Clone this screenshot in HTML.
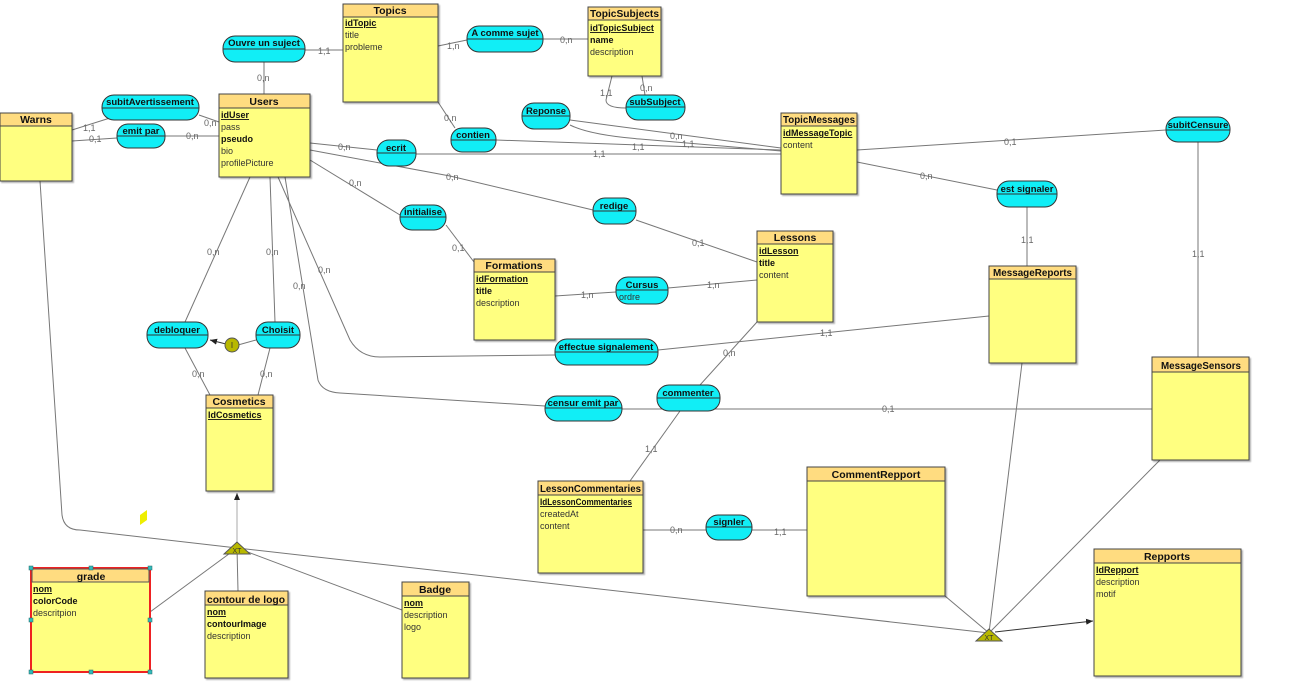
<!DOCTYPE html>
<html><head><meta charset="utf-8"><style>
html,body{margin:0;padding:0;background:#fff;width:1311px;height:692px;overflow:hidden}
svg{display:block;font-family:"Liberation Sans",sans-serif}
.ln{stroke:#777;stroke-width:1;fill:none}
.cd{font-size:9px;fill:#666}
.eb{fill:#ffff80;stroke:#444;stroke-width:1}
.eh{fill:#ffdc80;stroke:#444;stroke-width:1}
.et{font-size:10.5px;font-weight:bold;fill:#111}
.at{font-size:9px;fill:#333}
.ab{font-size:9px;fill:#111;font-weight:bold}
.as{fill:#11eef6;stroke:#333;stroke-width:1}
.an{font-size:9.5px;font-weight:bold;fill:#111}
.hd{fill:#3bb;stroke:#266;stroke-width:0.5}
</style></head><body>
<svg width="1311" height="692" viewBox="0 0 1311 692">
<defs><marker id="ar" markerWidth="8" markerHeight="8" refX="7" refY="4" orient="auto"><path d="M0,1 L7,4 L0,7z" fill="#222"/></marker>
<filter id="sh" x="-5%" y="-5%" width="115%" height="115%"><feDropShadow dx="1.5" dy="1.5" stdDeviation="0.8" flood-color="#000" flood-opacity="0.3"/></filter></defs>
<g class="ln">
<line x1="264" y1="62" x2="264" y2="94"/>
<line x1="305" y1="50" x2="343" y2="50"/>
<line x1="438" y1="46" x2="467" y2="40"/>
<line x1="543" y1="39" x2="588" y2="39"/>
<path d="M612,76 L606,100 Q606,108 626,108"/>
<line x1="642" y1="76" x2="645" y2="95"/>
<line x1="438" y1="102" x2="455" y2="128"/>
<line x1="496" y1="140" x2="781" y2="150"/>
<line x1="570" y1="120" x2="781" y2="148"/>
<path d="M570,125 Q590,135 640,139 L781,151"/>
<line x1="310" y1="143" x2="377" y2="150"/>
<line x1="416" y1="154" x2="781" y2="154"/>
<line x1="310" y1="150" x2="450" y2="176"/>
<line x1="450" y1="176" x2="593" y2="210"/>
<line x1="310" y1="160" x2="400" y2="215"/>
<line x1="446" y1="225" x2="474" y2="262"/>
<line x1="636" y1="220" x2="757" y2="262"/>
<line x1="555" y1="296" x2="616" y2="292"/>
<line x1="668" y1="288" x2="757" y2="280"/>
<line x1="857" y1="150" x2="1166" y2="130"/>
<line x1="1198" y1="142" x2="1198" y2="357"/>
<line x1="857" y1="162" x2="997" y2="190"/>
<line x1="1027" y1="207" x2="1027" y2="266"/>
<line x1="250" y1="177" x2="185" y2="322"/>
<line x1="270" y1="177" x2="275" y2="322"/>
<path d="M278,177 L350,340 Q360,357 380,357 L555,355"/>
<path d="M285,177 L318,380 Q322,392 340,393 L545,406"/>
<line x1="658" y1="350" x2="989" y2="316"/>
<line x1="622" y1="409" x2="1152" y2="409"/>
<line x1="757" y1="322" x2="700" y2="385"/>
<line x1="680" y1="411" x2="630" y2="481"/>
<line x1="643" y1="530" x2="706" y2="530"/>
<line x1="752" y1="530" x2="807" y2="530"/>
<line x1="256" y1="340" x2="238" y2="345"/>
<line x1="185" y1="348" x2="210" y2="395"/>
<line x1="270" y1="348" x2="258" y2="395"/>
<line x1="72" y1="130" x2="110" y2="118"/>
<line x1="72" y1="141" x2="117" y2="138"/>
<line x1="199" y1="115" x2="219" y2="122"/>
<line x1="165" y1="136" x2="219" y2="136"/>
<path d="M40,181 L62,515 Q64,530 80,530 L237,548 L989,633"/>
<line x1="150" y1="612" x2="237" y2="548"/>
<line x1="238" y1="591" x2="237" y2="548"/>
<line x1="402" y1="610" x2="237" y2="548"/>
<line x1="945" y1="596" x2="989" y2="633"/>
<line x1="1022" y1="363" x2="989" y2="633"/>
<line x1="1160" y1="460" x2="989" y2="633"/>
</g>
<line x1="237" y1="545" x2="237" y2="493" stroke="#aaa" marker-end="url(#ar)"/>
<line x1="995" y1="632" x2="1093" y2="621" stroke="#333" marker-end="url(#ar)"/>
<line x1="226" y1="344" x2="210" y2="340" stroke="#333" marker-end="url(#ar)"/>
<g class="cd">
<text x="257" y="81">0,n</text><text x="318" y="54">1,1</text>
<text x="447" y="49">1,n</text><text x="560" y="43">0,n</text>
<text x="600" y="96">1,1</text><text x="640" y="91">0,n</text>
<text x="444" y="121">0,n</text><text x="632" y="150">1,1</text>
<text x="670" y="139">0,n</text><text x="682" y="147">1,1</text>
<text x="338" y="150">0,n</text><text x="593" y="157">1,1</text>
<text x="446" y="180">0,n</text><text x="349" y="186">0,n</text>
<text x="452" y="251">0,1</text><text x="692" y="246">0,1</text>
<text x="581" y="298">1,n</text><text x="707" y="288">1,n</text>
<text x="1004" y="145">0,1</text><text x="1192" y="257">1,1</text>
<text x="920" y="179">0,n</text><text x="1021" y="243">1,1</text>
<text x="207" y="255">0,n</text><text x="266" y="255">0,n</text>
<text x="318" y="273">0,n</text><text x="293" y="289">0,n</text>
<text x="820" y="336">1,1</text><text x="882" y="412">0,1</text>
<text x="723" y="356">0,n</text><text x="645" y="452">1,1</text>
<text x="670" y="533">0,n</text><text x="774" y="535">1,1</text>
<text x="192" y="377">0,n</text><text x="260" y="377">0,n</text>
<text x="83" y="131">1,1</text><text x="89" y="142">0,1</text>
<text x="204" y="126">0,n</text><text x="186" y="139">0,n</text>
</g>
<g>
<rect class="eb" x="343" y="4" width="95" height="98" filter="url(#sh)"/><rect class="eh" x="343" y="4" width="95" height="13"/>
<text class="et" x="390" y="14" text-anchor="middle">Topics</text>
<text class="ab" x="345" y="26" text-decoration="underline">idTopic</text><text class="at" x="345" y="38">title</text><text class="at" x="345" y="50">probleme</text>

<rect class="eb" x="588" y="7" width="73" height="69" filter="url(#sh)"/><rect class="eh" x="588" y="7" width="73" height="13"/>
<text class="et" x="590" y="17" textLength="69" lengthAdjust="spacingAndGlyphs">TopicSubjects</text>
<text class="ab" x="590" y="31" font-size="8" text-decoration="underline">idTopicSubject</text><text class="ab" x="590" y="43">name</text><text class="at" x="590" y="55">description</text>

<rect class="eb" x="219" y="94" width="91" height="83" filter="url(#sh)"/><rect class="eh" x="219" y="94" width="91" height="14"/>
<text class="et" x="264" y="105" text-anchor="middle">Users</text>
<text class="ab" x="221" y="118" text-decoration="underline">idUser</text><text class="at" x="221" y="130">pass</text><text class="ab" x="221" y="142">pseudo</text><text class="at" x="221" y="154">bio</text><text class="at" x="221" y="166">profilePicture</text>

<rect class="eb" x="0" y="113" width="72" height="68" filter="url(#sh)"/><rect class="eh" x="0" y="113" width="72" height="13"/>
<text class="et" x="36" y="123" text-anchor="middle">Warns</text>

<rect class="eb" x="781" y="113" width="76" height="81" filter="url(#sh)"/><rect class="eh" x="781" y="113" width="76" height="13"/>
<text class="et" x="783" y="123" textLength="72" lengthAdjust="spacingAndGlyphs">TopicMessages</text>
<text class="ab" x="783" y="136" font-size="8.5" text-decoration="underline">idMessageTopic</text><text class="at" x="783" y="148">content</text>

<rect class="eb" x="757" y="231" width="76" height="91" filter="url(#sh)"/><rect class="eh" x="757" y="231" width="76" height="13"/>
<text class="et" x="795" y="241" text-anchor="middle">Lessons</text>
<text class="ab" x="759" y="254" text-decoration="underline">idLesson</text><text class="ab" x="759" y="266">title</text><text class="at" x="759" y="278">content</text>

<rect class="eb" x="474" y="259" width="81" height="81" filter="url(#sh)"/><rect class="eh" x="474" y="259" width="81" height="13"/>
<text class="et" x="514" y="269" text-anchor="middle">Formations</text>
<text class="ab" x="476" y="282" text-decoration="underline">idFormation</text><text class="ab" x="476" y="294">title</text><text class="at" x="476" y="306">description</text>

<rect class="eb" x="989" y="266" width="87" height="97" filter="url(#sh)"/><rect class="eh" x="989" y="266" width="87" height="13"/>
<text class="et" x="993" y="276" textLength="79" lengthAdjust="spacingAndGlyphs">MessageReports</text>

<rect class="eb" x="1152" y="357" width="97" height="103" filter="url(#sh)"/><rect class="eh" x="1152" y="357" width="97" height="15"/>
<text class="et" x="1161" y="369" textLength="80" lengthAdjust="spacingAndGlyphs">MessageSensors</text>

<rect class="eb" x="206" y="395" width="67" height="96" filter="url(#sh)"/><rect class="eh" x="206" y="395" width="67" height="13"/>
<text class="et" x="239" y="405" text-anchor="middle">Cosmetics</text>
<text class="ab" x="208" y="418" font-size="8" text-decoration="underline">IdCosmetics</text>

<rect class="eb" x="538" y="481" width="105" height="92" filter="url(#sh)"/><rect class="eh" x="538" y="481" width="105" height="14"/>
<text class="et" x="540" y="492" textLength="101" lengthAdjust="spacingAndGlyphs">LessonCommentaries</text>
<text class="ab" x="540" y="505" font-size="8" text-decoration="underline" textLength="92" lengthAdjust="spacingAndGlyphs">IdLessonCommentaries</text><text class="at" x="540" y="517">createdAt</text><text class="at" x="540" y="529">content</text>

<rect class="eb" x="807" y="467" width="138" height="129" filter="url(#sh)"/><rect class="eh" x="807" y="467" width="138" height="14"/>
<text class="et" x="876" y="478" text-anchor="middle">CommentRepport</text>

<rect class="eb" x="1094" y="549" width="147" height="127" filter="url(#sh)"/><rect class="eh" x="1094" y="549" width="147" height="14"/>
<text class="et" x="1167" y="560" text-anchor="middle">Repports</text>
<text class="ab" x="1096" y="573" text-decoration="underline">IdRepport</text><text class="at" x="1096" y="585">description</text><text class="at" x="1096" y="597">motif</text>

<rect class="eb" x="31" y="568" width="119" height="104" style="stroke:#e22;stroke-width:2"/><rect class="eh" x="32" y="569" width="117" height="13" style="stroke:#555;stroke-width:1"/>
<text class="et" x="91" y="580" text-anchor="middle">grade</text>
<text class="ab" x="33" y="592" font-size="8" text-decoration="underline">nom</text><text class="ab" x="33" y="604" font-size="8">colorCode</text><text class="at" x="33" y="616">descritpion</text>
<rect class="hd" x="29" y="566" width="4" height="4"/><rect class="hd" x="89" y="566" width="4" height="4"/><rect class="hd" x="148" y="566" width="4" height="4"/>
<rect class="hd" x="29" y="618" width="4" height="4"/><rect class="hd" x="148" y="618" width="4" height="4"/>
<rect class="hd" x="29" y="670" width="4" height="4"/><rect class="hd" x="89" y="670" width="4" height="4"/><rect class="hd" x="148" y="670" width="4" height="4"/>

<rect class="eb" x="205" y="591" width="83" height="87" filter="url(#sh)"/><rect class="eh" x="205" y="591" width="83" height="14"/>
<text class="et" x="207" y="603" textLength="78" lengthAdjust="spacingAndGlyphs">contour de logo</text>
<text class="ab" x="207" y="615" font-size="8" text-decoration="underline">nom</text><text class="ab" x="207" y="627" font-size="8">contourImage</text><text class="at" x="207" y="639">description</text>

<rect class="eb" x="402" y="582" width="67" height="96" filter="url(#sh)"/><rect class="eh" x="402" y="582" width="67" height="14"/>
<text class="et" x="435" y="593" text-anchor="middle">Badge</text>
<text class="ab" x="404" y="606" font-size="8.5" text-decoration="underline">nom</text><text class="at" x="404" y="618">description</text><text class="at" x="404" y="630">logo</text>
</g>
<g>
<rect class="as" x="223" y="36" width="82" height="26" rx="12"/><line x1="223" y1="49" x2="305" y2="49" stroke="#333"/><text class="an" x="264" y="46" text-anchor="middle">Ouvre un suject</text>
<rect class="as" x="467" y="26" width="76" height="26" rx="12"/><line x1="467" y1="39" x2="543" y2="39" stroke="#333"/><text class="an" x="505" y="36" text-anchor="middle">A comme sujet</text>
<rect class="as" x="626" y="95" width="59" height="25" rx="12"/><line x1="626" y1="107" x2="685" y2="107" stroke="#333"/><text class="an" x="655" y="105" text-anchor="middle">subSubject</text>
<rect class="as" x="522" y="103" width="48" height="26" rx="12"/><line x1="522" y1="116" x2="570" y2="116" stroke="#333"/><text class="an" x="546" y="114" text-anchor="middle">Reponse</text>
<rect class="as" x="451" y="128" width="45" height="24" rx="11"/><line x1="451" y1="140" x2="496" y2="140" stroke="#333"/><text class="an" x="473" y="138" text-anchor="middle">contien</text>
<rect class="as" x="102" y="95" width="97" height="25" rx="12"/><line x1="102" y1="108" x2="199" y2="108" stroke="#333"/><text class="an" x="150" y="105" text-anchor="middle">subitAvertissement</text>
<rect class="as" x="117" y="124" width="48" height="24" rx="11"/><line x1="117" y1="136" x2="165" y2="136" stroke="#333"/><text class="an" x="141" y="134" text-anchor="middle">emit par</text>
<rect class="as" x="377" y="140" width="39" height="26" rx="12"/><line x1="377" y1="153" x2="416" y2="153" stroke="#333"/><text class="an" x="396" y="151" text-anchor="middle">ecrit</text>
<rect class="as" x="1166" y="117" width="64" height="25" rx="12"/><line x1="1166" y1="130" x2="1230" y2="130" stroke="#333"/><text class="an" x="1198" y="128" text-anchor="middle">subitCensure</text>
<rect class="as" x="997" y="181" width="60" height="26" rx="12"/><line x1="997" y1="194" x2="1057" y2="194" stroke="#333"/><text class="an" x="1027" y="192" text-anchor="middle">est signaler</text>
<rect class="as" x="400" y="205" width="46" height="25" rx="12"/><line x1="400" y1="217" x2="446" y2="217" stroke="#333"/><text class="an" x="423" y="215" text-anchor="middle">initialise</text>
<rect class="as" x="593" y="198" width="43" height="26" rx="12"/><line x1="593" y1="211" x2="636" y2="211" stroke="#333"/><text class="an" x="614" y="209" text-anchor="middle">redige</text>
<rect class="as" x="616" y="277" width="52" height="27" rx="12"/><line x1="616" y1="290" x2="668" y2="290" stroke="#333"/><text class="an" x="642" y="288" text-anchor="middle">Cursus</text><text class="at" x="619" y="300">ordre</text>
<rect class="as" x="147" y="322" width="61" height="26" rx="12"/><line x1="147" y1="335" x2="208" y2="335" stroke="#333"/><text class="an" x="177" y="333" text-anchor="middle">debloquer</text>
<rect class="as" x="256" y="322" width="44" height="26" rx="12"/><line x1="256" y1="335" x2="300" y2="335" stroke="#333"/><text class="an" x="278" y="333" text-anchor="middle">Choisit</text>
<rect class="as" x="555" y="339" width="103" height="26" rx="12"/><line x1="555" y1="352" x2="658" y2="352" stroke="#333"/><text class="an" x="606" y="350" text-anchor="middle">effectue signalement</text>
<rect class="as" x="545" y="396" width="77" height="25" rx="12"/><line x1="545" y1="408" x2="622" y2="408" stroke="#333"/><text class="an" x="583" y="406" text-anchor="middle">censur emit par</text>
<rect class="as" x="657" y="385" width="63" height="26" rx="12"/><line x1="657" y1="398" x2="720" y2="398" stroke="#333"/><text class="an" x="688" y="396" text-anchor="middle">commenter</text>
<rect class="as" x="706" y="515" width="46" height="25" rx="12"/><line x1="706" y1="527" x2="752" y2="527" stroke="#333"/><text class="an" x="729" y="525" text-anchor="middle">signler</text>
</g>
<circle cx="232" cy="345" r="7" fill="#b8b800" stroke="#555"/><text x="232" y="348" font-size="8" text-anchor="middle" fill="#333">I</text>
<polygon points="237,542 224,554 250,554" fill="#b8b800" stroke="#555"/><text x="237" y="553" font-size="7" text-anchor="middle" fill="#333">XT</text>
<polygon points="989,629 976,641 1002,641" fill="#b8b800" stroke="#555"/><text x="989" y="640" font-size="7" text-anchor="middle" fill="#333">XT</text>
<polygon points="140,515 147,510 147,520 140,525" fill="#eeee00"/>
</svg>
</body></html>
